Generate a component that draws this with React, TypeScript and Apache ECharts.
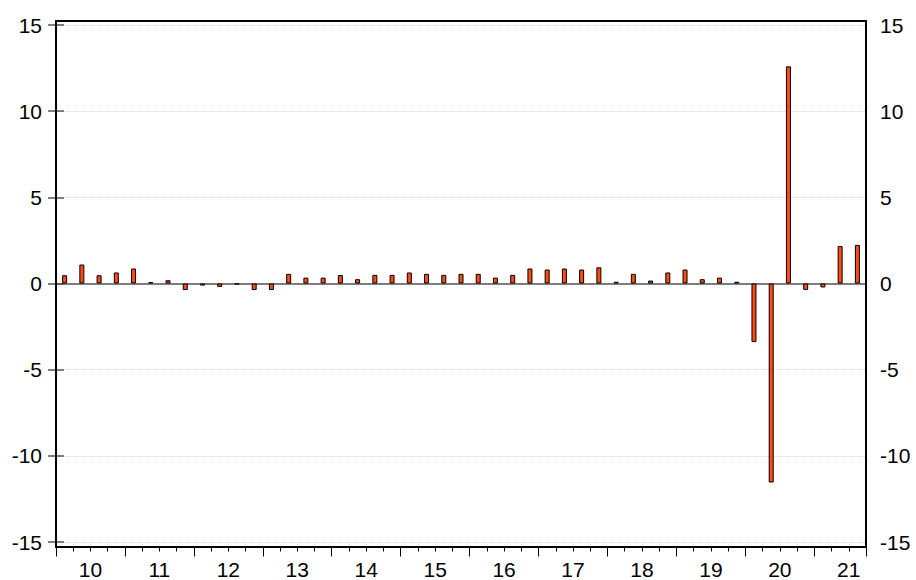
import React, { useEffect, useRef } from "react";
import * as echarts from "echarts";

const yearLabels = ["10", "11", "12", "13", "14", "15", "16", "17", "18", "19", "20", "21"];

const quarters: string[] = [];
for (let y = 2010; y <= 2021; y++) {
  for (let q = 1; q <= 4; q++) {
    if (y === 2021 && q === 4) break;
    quarters.push(`${y}Q${q}`);
  }
}

const values = [
  0.48, 1.1, 0.48, 0.64,
  0.87, 0.08, 0.19, -0.38,
  -0.12, -0.2, -0.04, -0.38,
  -0.38, 0.56, 0.34, 0.34,
  0.49, 0.25, 0.5, 0.5,
  0.64, 0.56, 0.5, 0.56,
  0.56, 0.34, 0.5, 0.87,
  0.81, 0.87, 0.81, 0.94,
  0.1, 0.56, 0.17, 0.64,
  0.81, 0.25, 0.34, 0.1,
  -3.4, -11.55, 12.6, -0.37,
  -0.23, 2.17, 2.24,
];

const yTicks = { min: -15, max: 15, interval: 5 };

const FONT = "Arial, 'Liberation Sans', sans-serif";

export default function App() {
  const ref = useRef<HTMLDivElement>(null);
  useEffect(() => {
    if (!ref.current) return;
    const chart = echarts.init(ref.current, null, { renderer: "svg" });
    const n = quarters.length;
    const yAxisBase = (pos: "left" | "right", split: boolean) => ({
      type: "value",
      position: pos,
      min: yTicks.min,
      max: yTicks.max,
      interval: yTicks.interval,
      axisLine: { show: false },
      axisTick: { show: true, length: 8, lineStyle: { color: "#555", width: 1.5 } },
      axisLabel: { fontSize: 21, margin: 14, color: "#000", fontFamily: FONT },
      splitLine: split
        ? { show: true, lineStyle: { color: "#d8d8d8", type: "dotted", width: 1 } }
        : { show: false },
    });
    chart.setOption({
      animation: false,
      backgroundColor: "#fff",
      grid: { left: 56, right: 50, top: 25, height: 517, containLabel: false },
      xAxis: [
        {
          type: "category",
          data: quarters,
          position: "bottom",
          offset: 4.5,
          boundaryGap: true,
          axisLine: { show: false, onZero: false },
          axisTick: { show: true, interval: 0, length: 5, lineStyle: { color: "#000", width: 1 } },
          axisLabel: { show: false },
          splitLine: { show: false },
        },
        {
          type: "value",
          min: 0,
          max: n,
          interval: 4,
          position: "bottom",
          offset: 4.5,
          axisLine: { show: false, onZero: false },
          axisTick: { show: true, length: 10, lineStyle: { color: "#000", width: 1 } },
          axisLabel: { show: false },
          splitLine: { show: false },
        },
        {
          type: "value",
          min: 0,
          max: n,
          interval: 2,
          position: "bottom",
          offset: 4.5,
          axisLine: { show: false, onZero: false },
          axisTick: { show: false },
          axisLabel: {
            show: true,
            fontSize: 21,
            margin: 12,
            color: "#000",
            fontFamily: FONT,
            showMinLabel: true,
            showMaxLabel: true,
            formatter: (v: number) => {
              const i = Math.round(v);
              if (i % 4 === 2) return yearLabels[(i - 2) / 4] ?? "";
              return "";
            },
          },
          splitLine: { show: false },
        },
        {
          type: "category",
          data: quarters,
          position: "bottom",
          axisLine: { show: true, onZero: true, lineStyle: { color: "#555", width: 1.5 } },
          axisTick: { show: false },
          axisLabel: { show: false },
          splitLine: { show: false },
        },
      ],
      yAxis: [yAxisBase("left", true), yAxisBase("right", false)],
      series: [
        {
          type: "bar",
          xAxisIndex: 0,
          yAxisIndex: 0,
          data: values,
          barWidth: 5,
          itemStyle: { color: "#FF4A12", borderColor: "#000", borderWidth: 1 },
          z: 2,
        },
      ],
      graphic: [
        {
          type: "rect",
          z: 100,
          shape: { x: 56, y: 21, width: 810, height: 526 },
          style: { fill: "none", stroke: "#000", lineWidth: 2 },
          silent: true,
        },
      ],
    });
    return () => chart.dispose();
  }, []);
  return (
    <div
      ref={ref}
      style={{ position: "fixed", left: 0, top: 0, width: 916, height: 580 }}
    />
  );
}
